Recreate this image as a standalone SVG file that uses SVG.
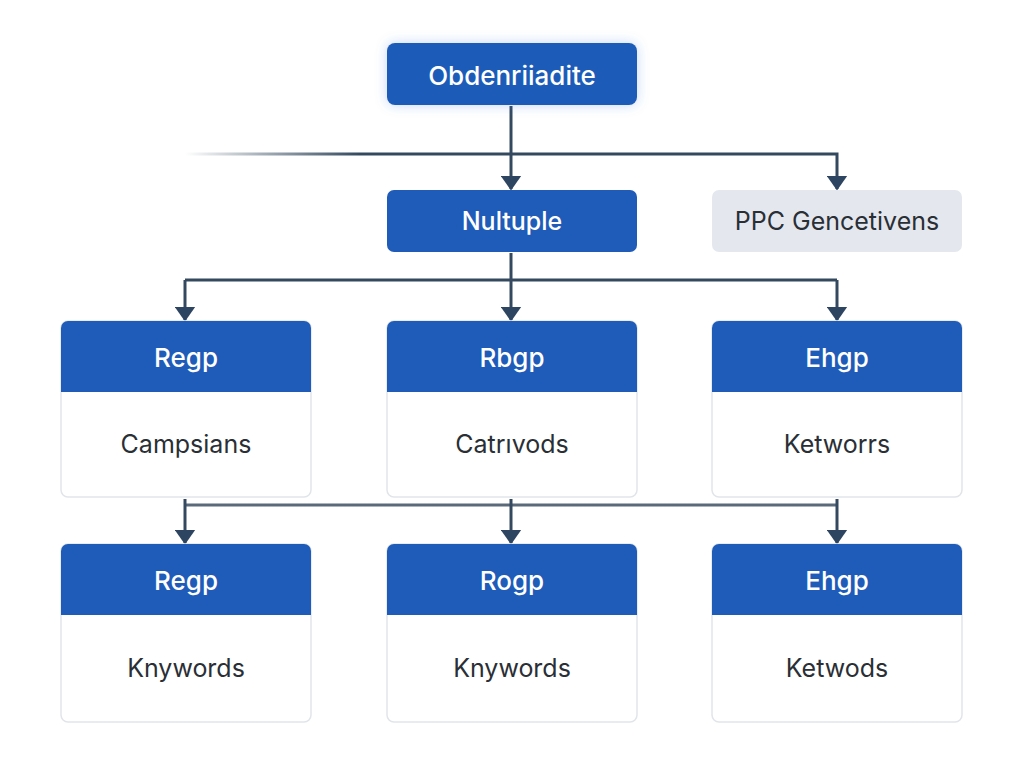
<svg xmlns="http://www.w3.org/2000/svg" width="1024" height="768" viewBox="0 0 1024 768">
<style>
.blue{fill:#1f5bb8}
.t{font-family:"Inter","Liberation Sans",sans-serif;text-anchor:middle;dominant-baseline:central}
.w{fill:#ffffff;font-weight:500}
.d{fill:#2a2f36}
.body{fill:#ffffff;stroke:#e1e5ea;stroke-width:1.5}
.ln{fill:none;stroke:#34495f;stroke-width:3}
.ln2{fill:none;stroke:#5a6a7b;stroke-width:3}
</style>
<defs>
<marker id="ah" viewBox="0 0 10 14" refX="9" refY="7" markerWidth="5" markerHeight="7" orient="auto" markerUnits="strokeWidth">
<path d="M0,0 L10,7 L0,14 Z" fill="#2e4561"/>
</marker>
<linearGradient id="fade" x1="185" y1="0" x2="360" y2="0" gradientUnits="userSpaceOnUse">
<stop offset="0" stop-color="#34495f" stop-opacity="0"/>
<stop offset="1" stop-color="#34495f" stop-opacity="1"/>
</linearGradient>
<filter id="sh" x="-20%" y="-40%" width="140%" height="180%">
<feGaussianBlur in="SourceAlpha" stdDeviation="6" result="b"/>
<feFlood flood-color="#3a78e0" flood-opacity="0.3"/>
<feComposite operator="in" in2="b"/>
<feMerge><feMergeNode/><feMergeNode in="SourceGraphic"/></feMerge>
</filter>
</defs>
<rect width="1024" height="768" fill="#ffffff"/>
<g id="connectors">
<path d="M185,154 H512" stroke="url(#fade)" stroke-width="3" fill="none"/>
<path class="ln" d="M511,106 V189" marker-end="url(#ah)"/>
<path class="ln" d="M511,154 H837 V189" marker-end="url(#ah)"/>
<path class="ln" d="M511,253 V320" marker-end="url(#ah)"/>
<path class="ln" d="M185,280 H837"/>
<path class="ln" d="M185,280 V320" marker-end="url(#ah)"/>
<path class="ln" d="M837,280 V320" marker-end="url(#ah)"/>
<path class="ln2" d="M185,505 H837"/>
<path class="ln" d="M185,499 V543" marker-end="url(#ah)"/>
<path class="ln" d="M511,499 V543" marker-end="url(#ah)"/>
<path class="ln" d="M837,499 V543" marker-end="url(#ah)"/>
</g>
<g id="n-top">
<rect x="387" y="43" width="250" height="62" rx="8" class="blue" filter="url(#sh)"/>
<text x="512" y="75" class="t w" font-size="26">Obdenriiadite</text>
</g>
<g id="n-nultuple">
<rect x="387" y="190" width="250" height="62" rx="7" class="blue"/>
<text x="512" y="221" class="t w" font-size="25">Nultuple</text>
</g>
<g id="n-ppc">
<rect x="712" y="190" width="250" height="62" rx="7" fill="#e4e8ee"/>
<text x="837" y="221" class="t d" font-size="25">PPC Gencetivens</text>
</g>
<g id="n-r2c1">
<rect x="61" y="321" width="250" height="176" rx="7" class="body"/>
<path d="M61,392 V328 a7,7 0 0 1 7,-7 H304 a7,7 0 0 1 7,7 V392 Z" class="blue"/>
<text x="186" y="357" class="t w" font-size="26">Regp</text>
<text x="186" y="444" class="t d" font-size="25">Campsians</text>
</g>
<g id="n-r2c2">
<rect x="387" y="321" width="250" height="176" rx="7" class="body"/>
<path d="M387,392 V328 a7,7 0 0 1 7,-7 H630 a7,7 0 0 1 7,7 V392 Z" class="blue"/>
<text x="512" y="357" class="t w" font-size="26">Rbgp</text>
<text x="512" y="444" class="t d" font-size="25">Catrıvods</text>
</g>
<g id="n-r2c3">
<rect x="712" y="321" width="250" height="176" rx="7" class="body"/>
<path d="M712,392 V328 a7,7 0 0 1 7,-7 H955 a7,7 0 0 1 7,7 V392 Z" class="blue"/>
<text x="837" y="357" class="t w" font-size="26">Ehgp</text>
<text x="837" y="444" class="t d" font-size="25">Ketworrs</text>
</g>
<g id="n-r3c1">
<rect x="61" y="544" width="250" height="178" rx="7" class="body"/>
<path d="M61,615 V551 a7,7 0 0 1 7,-7 H304 a7,7 0 0 1 7,7 V615 Z" class="blue"/>
<text x="186" y="580" class="t w" font-size="26">Regp</text>
<text x="186" y="668" class="t d" font-size="25">Knywords</text>
</g>
<g id="n-r3c2">
<rect x="387" y="544" width="250" height="178" rx="7" class="body"/>
<path d="M387,615 V551 a7,7 0 0 1 7,-7 H630 a7,7 0 0 1 7,7 V615 Z" class="blue"/>
<text x="512" y="580" class="t w" font-size="26">Rogp</text>
<text x="512" y="668" class="t d" font-size="25">Knywords</text>
</g>
<g id="n-r3c3">
<rect x="712" y="544" width="250" height="178" rx="7" class="body"/>
<path d="M712,615 V551 a7,7 0 0 1 7,-7 H955 a7,7 0 0 1 7,7 V615 Z" class="blue"/>
<text x="837" y="580" class="t w" font-size="26">Ehgp</text>
<text x="837" y="668" class="t d" font-size="25">Ketwods</text>
</g>
</svg>
